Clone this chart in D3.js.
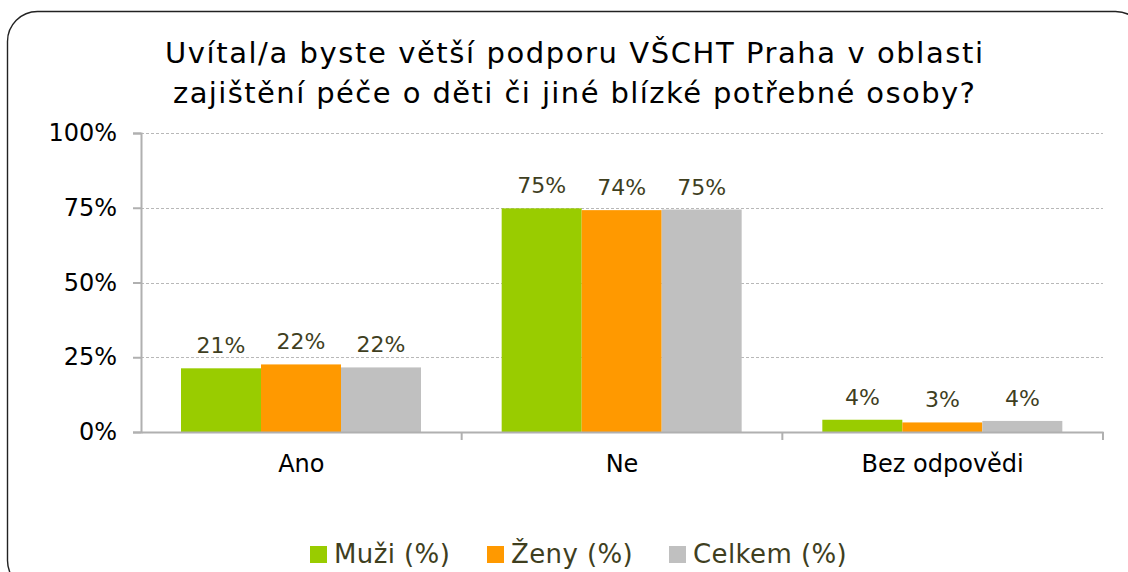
<!DOCTYPE html>
<html><head><meta charset="utf-8">
<script src="https://cdn.jsdelivr.net/npm/d3@7"></script>
<style>body{margin:0;background:#fff;}svg{display:block;}</style>
</head><body>
<svg id="c" width="1128" height="572"></svg>
<script>
const categories = ["Ano", "Ne", "Bez odpovědi"];
const seriesNames = ["Muži (%)", "Ženy (%)", "Celkem (%)"];
const muzi = [21.3, 74.8, 4.1];
const zeny = [22.6, 74.2, 3.2];
const celkem = [21.6, 74.4, 3.7];
const valueLabels = [["21%", "75%", "4%"], ["22%", "74%", "3%"], ["22%", "75%", "4%"]];
const yTicks = [0, 25, 50, 75, 100];
const colors = ["#99cc00", "#ff9900", "#c0c0c0"];
const titleLines = ["Uvítal/a byste větší podporu VŠCHT Praha v oblasti", "zajištění péče o děti či jiné blízké potřebné osoby?"];

const series = [muzi, zeny, celkem];
const svg = d3.select("#c");
const font = "Verdana, 'DejaVu Sans', sans-serif";

// rounded frame
svg.append("rect").attr("x", 7.5).attr("y", 11.5).attr("width", 1138).attr("height", 579)
  .attr("rx", 30).attr("fill", "none").attr("stroke", "#222").attr("stroke-width", 1.4);

const pL = 141, pR = 1103, pT = 133, pB = 432;
const x0 = d3.scaleBand().domain(categories).range([pL, pR]).paddingInner(0).paddingOuter(0);
const x1 = d3.scaleBand().domain([0, 1, 2]).range([40, 280]);
const y = d3.scaleLinear().domain([0, 100]).range([pB, pT]);

// title
const titleLen = [818, 802];
svg.append("g").selectAll("text").data(titleLines).join("text")
  .attr("x", 574).attr("y", (d, i) => 63 + i * 39.5).attr("text-anchor", "middle")
  .attr("textLength", (d, i) => titleLen[i]).attr("lengthAdjust", "spacing")
  .style("font-family", font).style("font-size", "29px").attr("fill", "#000")
  .text(d => d);

// gridlines
svg.append("g").selectAll("line").data(yTicks.filter(t => t > 0)).join("line")
  .attr("x1", pL).attr("x2", pR).attr("y1", d => Math.round(y(d)) + 0.5).attr("y2", d => Math.round(y(d)) + 0.5)
  .attr("stroke", "#b8b8b8").attr("stroke-dasharray", "3,2").attr("stroke-width", 1);

// y axis
const yAxis = svg.append("g").attr("transform", `translate(${pL},0)`)
  .call(d3.axisLeft(y).tickValues(yTicks).tickFormat(d => d + "%").tickSize(8).tickPadding(16));
yAxis.select(".domain").attr("stroke", "#b0b0b0").attr("stroke-width", 2);
yAxis.selectAll(".tick line").attr("stroke", "#b0b0b0").attr("stroke-width", 2);
yAxis.selectAll(".tick text").style("font-family", font).style("font-size", "24px").attr("fill", "#000");

// bars
const groups = svg.append("g").selectAll("g").data(categories).join("g")
  .attr("transform", d => `translate(${x0(d)},0)`);
groups.selectAll("rect").data((c, ci) => series.map((s, si) => ({si, v: s[ci]}))).join("rect")
  .attr("x", d => x1(d.si)).attr("width", x1.bandwidth())
  .attr("y", d => y(d.v)).attr("height", d => y(0) - y(d.v)).attr("fill", d => colors[d.si]);
groups.selectAll("text").data((c, ci) => series.map((s, si) => ({si, v: s[ci], l: valueLabels[si][ci]}))).join("text")
  .attr("x", d => x1(d.si) + x1.bandwidth() / 2).attr("y", d => y(d.v) - 15)
  .attr("text-anchor", "middle").style("font-family", font).style("font-size", "22px")
  .attr("fill", "#3f3f1f").text(d => d.l);

// x axis
const xAxis = svg.append("g").attr("transform", `translate(0,${pB})`)
  .call(d3.axisBottom(x0).tickSize(0));
xAxis.select(".domain").attr("stroke", "#b0b0b0").attr("stroke-width", 2);
xAxis.selectAll(".tick text").attr("y", 40).attr("dy", null)
  .style("font-family", font).style("font-size", "24px").attr("fill", "#000");
// boundary tick marks
svg.append("g").selectAll("line").data(categories).join("line")
  .attr("x1", d => x0(d) + x0.bandwidth()).attr("x2", d => x0(d) + x0.bandwidth())
  .attr("y1", pB).attr("y2", pB + 8).attr("stroke", "#b0b0b0").attr("stroke-width", 2);

// legend
const legendX = [310, 487, 669];
const lg = svg.append("g").selectAll("g").data(seriesNames).join("g")
  .attr("transform", (d, i) => `translate(${legendX[i]},563)`);
lg.append("rect").attr("x", 0).attr("y", -17).attr("width", 17).attr("height", 17)
  .attr("fill", (d, i) => colors[i]);
lg.append("text").attr("x", 24).attr("y", 0).style("font-family", font).style("font-size", "26px")
  .style("letter-spacing", "0.4px").attr("fill", "#3f3f1f").text(d => d);
</script>
</body></html>
